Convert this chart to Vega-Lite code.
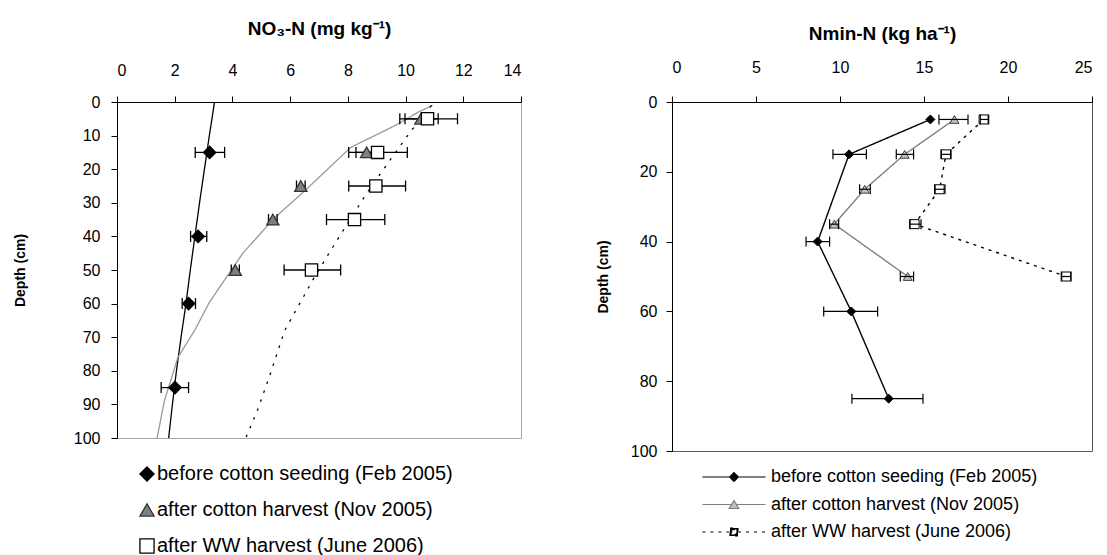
{
  "$schema": "https://vega.github.io/schema/vega-lite/v6.json",
  "padding": {"left": 12, "top": 18, "right": 5, "bottom": 0},
  "background": "white",
  "spacing": 73,
  "config": {
    "font": "Liberation Sans",
    "view": {"stroke": null},
    "axis": {"grid": false, "domainColor": "black", "tickColor": "black", "labelColor": "black", "titleColor": "black", "labelFont": "Liberation Sans", "titleFont": "Liberation Sans", "labelFontSize": 16, "tickSize": 6, "domainWidth": 1, "tickWidth": 1},
    "legend": {"labelFont": "Liberation Sans", "labelColor": "black", "labelLimit": 500}
  },
  "datasets": {
    "leftFit": [
      {"series": "before cotton seeding (Feb 2005)", "depth": 0, "value": 3.38},
      {"series": "before cotton seeding (Feb 2005)", "depth": 10, "value": 3.2},
      {"series": "before cotton seeding (Feb 2005)", "depth": 20, "value": 3.03},
      {"series": "before cotton seeding (Feb 2005)", "depth": 30, "value": 2.86},
      {"series": "before cotton seeding (Feb 2005)", "depth": 40, "value": 2.7},
      {"series": "before cotton seeding (Feb 2005)", "depth": 50, "value": 2.54},
      {"series": "before cotton seeding (Feb 2005)", "depth": 60, "value": 2.39},
      {"series": "before cotton seeding (Feb 2005)", "depth": 70, "value": 2.22},
      {"series": "before cotton seeding (Feb 2005)", "depth": 80, "value": 2.06},
      {"series": "before cotton seeding (Feb 2005)", "depth": 90, "value": 1.92},
      {"series": "before cotton seeding (Feb 2005)", "depth": 100, "value": 1.79},
      {"series": "after cotton harvest (Nov 2005)", "depth": 1, "value": 10.94},
      {"series": "after cotton harvest (Nov 2005)", "depth": 3, "value": 10.44},
      {"series": "after cotton harvest (Nov 2005)", "depth": 6.5, "value": 9.75},
      {"series": "after cotton harvest (Nov 2005)", "depth": 9, "value": 9.17},
      {"series": "after cotton harvest (Nov 2005)", "depth": 13.5, "value": 8.1},
      {"series": "after cotton harvest (Nov 2005)", "depth": 20, "value": 7.3},
      {"series": "after cotton harvest (Nov 2005)", "depth": 26, "value": 6.56},
      {"series": "after cotton harvest (Nov 2005)", "depth": 34.5, "value": 5.46},
      {"series": "after cotton harvest (Nov 2005)", "depth": 45, "value": 4.36},
      {"series": "after cotton harvest (Nov 2005)", "depth": 59.5, "value": 3.21},
      {"series": "after cotton harvest (Nov 2005)", "depth": 68, "value": 2.69},
      {"series": "after cotton harvest (Nov 2005)", "depth": 76, "value": 2.11},
      {"series": "after cotton harvest (Nov 2005)", "depth": 89, "value": 1.64},
      {"series": "after cotton harvest (Nov 2005)", "depth": 100, "value": 1.39},
      {"series": "after WW harvest (June 2006)", "depth": 1, "value": 10.9},
      {"series": "after WW harvest (June 2006)", "depth": 8.5, "value": 10.2},
      {"series": "after WW harvest (June 2006)", "depth": 18, "value": 9.4},
      {"series": "after WW harvest (June 2006)", "depth": 28, "value": 8.59},
      {"series": "after WW harvest (June 2006)", "depth": 43, "value": 7.49},
      {"series": "after WW harvest (June 2006)", "depth": 52, "value": 6.85},
      {"series": "after WW harvest (June 2006)", "depth": 68, "value": 5.81},
      {"series": "after WW harvest (June 2006)", "depth": 80, "value": 5.35},
      {"series": "after WW harvest (June 2006)", "depth": 91.5, "value": 4.88},
      {"series": "after WW harvest (June 2006)", "depth": 100, "value": 4.46}
    ],
    "leftPts": [
      {"series": "before cotton seeding (Feb 2005)", "depth": 15, "value": 3.21, "lo": 2.71, "hi": 3.73},
      {"series": "before cotton seeding (Feb 2005)", "depth": 40, "value": 2.81, "lo": 2.55, "hi": 3.11},
      {"series": "before cotton seeding (Feb 2005)", "depth": 60, "value": 2.48, "lo": 2.26, "hi": 2.72},
      {"series": "before cotton seeding (Feb 2005)", "depth": 85, "value": 2.01, "lo": 1.53, "hi": 2.48},
      {"series": "after cotton harvest (Nov 2005)", "depth": 5, "value": 10.53, "lo": 9.98, "hi": 11.13},
      {"series": "after cotton harvest (Nov 2005)", "depth": 15, "value": 8.65, "lo": 8.28, "hi": 9.02},
      {"series": "after cotton harvest (Nov 2005)", "depth": 25, "value": 6.37, "lo": 6.22, "hi": 6.52},
      {"series": "after cotton harvest (Nov 2005)", "depth": 35, "value": 5.4, "lo": 5.25, "hi": 5.55},
      {"series": "after cotton harvest (Nov 2005)", "depth": 50, "value": 4.1, "lo": 3.96, "hi": 4.24},
      {"series": "after WW harvest (June 2006)", "depth": 5, "value": 10.76, "lo": 9.8, "hi": 11.8},
      {"series": "after WW harvest (June 2006)", "depth": 15, "value": 9.03, "lo": 8.03, "hi": 10.06},
      {"series": "after WW harvest (June 2006)", "depth": 25, "value": 8.97, "lo": 8.03, "hi": 10.0},
      {"series": "after WW harvest (June 2006)", "depth": 35, "value": 8.23, "lo": 7.26, "hi": 9.28},
      {"series": "after WW harvest (June 2006)", "depth": 50, "value": 6.74, "lo": 5.79, "hi": 7.75}
    ],
    "rightPts": [
      {"series": "before cotton seeding (Feb 2005)", "depth": 5, "value": 15.38, "lo": null, "hi": null},
      {"series": "before cotton seeding (Feb 2005)", "depth": 15, "value": 10.54, "lo": 9.58, "hi": 11.57},
      {"series": "before cotton seeding (Feb 2005)", "depth": 40, "value": 8.67, "lo": 7.98, "hi": 9.38},
      {"series": "before cotton seeding (Feb 2005)", "depth": 60, "value": 10.67, "lo": 9.03, "hi": 12.24},
      {"series": "before cotton seeding (Feb 2005)", "depth": 85, "value": 12.9, "lo": 10.71, "hi": 14.94},
      {"series": "after cotton harvest (Nov 2005)", "depth": 5, "value": 16.81, "lo": 15.89, "hi": 17.62},
      {"series": "after cotton harvest (Nov 2005)", "depth": 15, "value": 13.85, "lo": 13.35, "hi": 14.38},
      {"series": "after cotton harvest (Nov 2005)", "depth": 25, "value": 11.47, "lo": 11.17, "hi": 11.8},
      {"series": "after cotton harvest (Nov 2005)", "depth": 35, "value": 9.66, "lo": 9.38, "hi": 9.92},
      {"series": "after cotton harvest (Nov 2005)", "depth": 50, "value": 14.03, "lo": 13.59, "hi": 14.38},
      {"series": "after WW harvest (June 2006)", "depth": 5, "value": 18.55, "lo": 18.35, "hi": 18.85},
      {"series": "after WW harvest (June 2006)", "depth": 15, "value": 16.31, "lo": 16.01, "hi": 16.61},
      {"series": "after WW harvest (June 2006)", "depth": 25, "value": 15.93, "lo": 15.63, "hi": 16.25},
      {"series": "after WW harvest (June 2006)", "depth": 35, "value": 14.44, "lo": 14.15, "hi": 14.82},
      {"series": "after WW harvest (June 2006)", "depth": 50, "value": 23.47, "lo": 23.17, "hi": 23.75}
    ]
  },
  "resolve": {
    "scale": {"x": "independent", "y": "independent", "color": "independent", "shape": "independent", "fill": "independent", "stroke": "independent", "strokeDash": "independent"},
    "legend": {"shape": "independent", "fill": "independent", "stroke": "independent", "color": "independent", "strokeDash": "independent"}
  },
  "hconcat": [
    {
      "width": 404,
      "height": 336,
      "view": {"stroke": "#a6a6a6"},
      "encoding": {
        "y": {"field": "depth", "type": "quantitative", "scale": {"domain": [0, 100], "reverse": true, "nice": false, "zero": false},
          "axis": {"values": [0, 10, 20, 30, 40, 50, 60, 70, 80, 90, 100], "title": "Depth (cm)", "titleFontSize": 14, "titleFontWeight": "bold", "labelPadding": 11, "titlePadding": 46}}
      },
      "layer": [
        {
          "data": {"name": "leftFit"},
          "mark": {"type": "line", "strokeWidth": 1.3},
          "encoding": {
            "x": {"field": "value", "type": "quantitative", "scale": {"domain": [0, 14], "nice": false, "zero": false}, "axis": {"orient": "top", "values": [0, 2, 4, 6, 8, 10, 12, 14], "title": "NO₃-N (mg kg⁻¹)", "titleFontSize": 19, "titleFontWeight": "bold", "labelPadding": 18, "titlePadding": 24}},
            "color": {"field": "series", "type": "nominal", "scale": {"domain": ["after WW harvest (June 2006)", "before cotton seeding (Feb 2005)", "after cotton harvest (Nov 2005)"], "range": ["black", "black", "#999999"]}, "legend": null},
            "strokeDash": {"field": "series", "type": "nominal", "scale": {"domain": ["after WW harvest (June 2006)", "before cotton seeding (Feb 2005)", "after cotton harvest (Nov 2005)"], "range": [[2.5, 7], [1, 0], [1, 0]]}, "legend": null},
            "order": {"field": "depth", "type": "quantitative"}
          }
        },
        {
          "data": {"name": "leftPts"},
          "mark": {"type": "rule", "color": "black", "strokeWidth": 1.3},
          "encoding": {
            "x": {"field": "lo", "type": "quantitative", "scale": {"domain": [0, 14], "nice": false, "zero": false}, "axis": {"orient": "top", "values": [0, 2, 4, 6, 8, 10, 12, 14], "title": "NO₃-N (mg kg⁻¹)", "titleFontSize": 19, "titleFontWeight": "bold", "labelPadding": 18, "titlePadding": 24}},
            "x2": {"field": "hi"}
          }
        },
        {
          "data": {"name": "leftPts"},
          "mark": {"type": "tick", "orient": "vertical", "size": 11, "thickness": 1.3, "color": "black", "opacity": 1},
          "encoding": {
            "x": {"field": "lo", "type": "quantitative", "scale": {"domain": [0, 14], "nice": false, "zero": false}, "axis": {"orient": "top", "values": [0, 2, 4, 6, 8, 10, 12, 14], "title": "NO₃-N (mg kg⁻¹)", "titleFontSize": 19, "titleFontWeight": "bold", "labelPadding": 18, "titlePadding": 24}}
          }
        },
        {
          "data": {"name": "leftPts"},
          "mark": {"type": "tick", "orient": "vertical", "size": 11, "thickness": 1.3, "color": "black", "opacity": 1},
          "encoding": {
            "x": {"field": "hi", "type": "quantitative", "scale": {"domain": [0, 14], "nice": false, "zero": false}, "axis": {"orient": "top", "values": [0, 2, 4, 6, 8, 10, 12, 14], "title": "NO₃-N (mg kg⁻¹)", "titleFontSize": 19, "titleFontWeight": "bold", "labelPadding": 18, "titlePadding": 24}}
          }
        },
        {
          "data": {"name": "leftPts"},
          "mark": {"type": "point", "filled": true, "size": 150, "strokeWidth": 1.3, "opacity": 1},
          "encoding": {
            "x": {"field": "value", "type": "quantitative", "scale": {"domain": [0, 14], "nice": false, "zero": false}, "axis": {"orient": "top", "values": [0, 2, 4, 6, 8, 10, 12, 14], "title": "NO₃-N (mg kg⁻¹)", "titleFontSize": 19, "titleFontWeight": "bold", "labelPadding": 18, "titlePadding": 24}},
            "shape": {"field": "series", "type": "nominal", "scale": {"domain": ["before cotton seeding (Feb 2005)", "after cotton harvest (Nov 2005)", "after WW harvest (June 2006)"], "range": ["diamond", "triangle-up", "square"]},
              "legend": {"title": null, "orient": "none", "legendX": 20, "legendY": 362, "direction": "vertical", "symbolSize": 200, "symbolStrokeWidth": 1.3, "labelFontSize": 20, "labelLimit": 500, "rowPadding": 16, "labelOffset": 0, "padding": 0}},
            "fill": {"field": "series", "type": "nominal", "scale": {"domain": ["before cotton seeding (Feb 2005)", "after cotton harvest (Nov 2005)", "after WW harvest (June 2006)"], "range": ["black", "#808080", "white"]},
              "legend": {"title": null, "orient": "none", "legendX": 20, "legendY": 362, "direction": "vertical", "symbolSize": 200, "symbolStrokeWidth": 1.3, "labelFontSize": 20, "labelLimit": 500, "rowPadding": 16, "labelOffset": 0, "padding": 0}},
            "stroke": {"field": "series", "type": "nominal", "scale": {"domain": ["before cotton seeding (Feb 2005)", "after cotton harvest (Nov 2005)", "after WW harvest (June 2006)"], "range": ["black", "#333333", "black"]},
              "legend": {"title": null, "orient": "none", "legendX": 20, "legendY": 362, "direction": "vertical", "symbolSize": 200, "symbolStrokeWidth": 1.3, "labelFontSize": 20, "labelLimit": 500, "rowPadding": 16, "labelOffset": 0, "padding": 0}}
          }
        }
      ]
    },
    {
      "width": 420,
      "height": 349,
      "view": {"stroke": "#595959"},
      "encoding": {
        "y": {"field": "depth", "type": "quantitative", "scale": {"domain": [0, 100], "reverse": true, "nice": false, "zero": false},
          "axis": {"values": [0, 20, 40, 60, 80, 100], "title": "Depth (cm)", "titleFontSize": 14, "titleFontWeight": "bold", "labelPadding": 9, "titlePadding": 20}}
      },
      "layer": [
        {
          "data": {"name": "rightPts"},
          "mark": {"type": "line", "strokeWidth": 1.4},
          "encoding": {
            "x": {"field": "value", "type": "quantitative", "scale": {"domain": [0, 25], "nice": false, "zero": false}, "axis": {"orient": "top", "values": [0, 5, 10, 15, 20, 25], "title": "Nmin-N (kg ha⁻¹)", "titleFontSize": 19, "titleFontWeight": "bold", "labelPadding": 21, "titlePadding": 16}},
            "color": {"field": "series", "type": "nominal", "scale": {"domain": ["after WW harvest (June 2006)", "before cotton seeding (Feb 2005)", "after cotton harvest (Nov 2005)"], "range": ["black", "black", "#808080"]}, "legend": null},
            "strokeDash": {"field": "series", "type": "nominal", "scale": {"domain": ["before cotton seeding (Feb 2005)", "after cotton harvest (Nov 2005)", "after WW harvest (June 2006)"], "range": [[1, 0], [1, 0], [3, 5]]},
              "legend": {"title": null, "orient": "none", "legendX": 53, "legendY": 366, "direction": "vertical", "symbolSize": 64, "symbolStrokeWidth": 1.2, "labelFontSize": 18, "labelLimit": 500, "rowPadding": 9.5, "labelOffset": 28, "padding": 0,
                "encode": {"symbols": {"update": {
                  "shape": {"signal": "datum.value === 'before cotton seeding (Feb 2005)' ? 'M-7.9,0H-1.1M-1.1,0L0,-1.1L1.1,0L0,1.1ZM1.1,0H7.9' : datum.value === 'after cotton harvest (Nov 2005)' ? 'M-7.9,0H-0.6M0,-1L1.2,1L-1.2,1ZM0.6,0H7.9' : 'M-7.9,0H-1M-1,-1H1V1H-1ZM-0.6,-0.6V0.6H0.6V-0.6ZM1,0H7.9'"},
                  "fill": {"signal": "datum.value === 'after cotton harvest (Nov 2005)' ? '#c0c0c0' : 'black'"},
                  "stroke": {"signal": "datum.value === 'after cotton harvest (Nov 2005)' ? '#808080' : 'black'"},
                  "opacity": {"value": 1}
                }}}}},
            "order": {"field": "depth", "type": "quantitative"}
          }
        },
        {
          "data": {"name": "rightPts"},
          "mark": {"type": "point", "filled": true, "size": 81, "strokeWidth": 1, "opacity": 1},
          "encoding": {
            "x": {"field": "value", "type": "quantitative", "scale": {"domain": [0, 25], "nice": false, "zero": false}, "axis": {"orient": "top", "values": [0, 5, 10, 15, 20, 25], "title": "Nmin-N (kg ha⁻¹)", "titleFontSize": 19, "titleFontWeight": "bold", "labelPadding": 21, "titlePadding": 16}},
            "shape": {"field": "series", "type": "nominal", "scale": {"domain": ["after WW harvest (June 2006)", "before cotton seeding (Feb 2005)", "after cotton harvest (Nov 2005)"], "range": ["square", "diamond", "triangle-up"]}, "legend": null},
            "fill": {"field": "series", "type": "nominal", "scale": {"domain": ["after WW harvest (June 2006)", "before cotton seeding (Feb 2005)", "after cotton harvest (Nov 2005)"], "range": ["white", "black", "#c0c0c0"]}, "legend": null},
            "stroke": {"field": "series", "type": "nominal", "scale": {"domain": ["after WW harvest (June 2006)", "before cotton seeding (Feb 2005)", "after cotton harvest (Nov 2005)"], "range": ["black", "black", "#404040"]}, "legend": null}
          }
        },
        {
          "data": {"name": "rightPts"},
          "mark": {"type": "rule", "color": "black", "strokeWidth": 1.2},
          "encoding": {
            "x": {"field": "lo", "type": "quantitative", "scale": {"domain": [0, 25], "nice": false, "zero": false}, "axis": {"orient": "top", "values": [0, 5, 10, 15, 20, 25], "title": "Nmin-N (kg ha⁻¹)", "titleFontSize": 19, "titleFontWeight": "bold", "labelPadding": 21, "titlePadding": 16}},
            "x2": {"field": "hi"}
          }
        },
        {
          "data": {"name": "rightPts"},
          "mark": {"type": "tick", "orient": "vertical", "size": 10, "thickness": 1.2, "color": "black", "opacity": 1},
          "encoding": {
            "x": {"field": "lo", "type": "quantitative", "scale": {"domain": [0, 25], "nice": false, "zero": false}, "axis": {"orient": "top", "values": [0, 5, 10, 15, 20, 25], "title": "Nmin-N (kg ha⁻¹)", "titleFontSize": 19, "titleFontWeight": "bold", "labelPadding": 21, "titlePadding": 16}}
          }
        },
        {
          "data": {"name": "rightPts"},
          "mark": {"type": "tick", "orient": "vertical", "size": 10, "thickness": 1.2, "color": "black", "opacity": 1},
          "encoding": {
            "x": {"field": "hi", "type": "quantitative", "scale": {"domain": [0, 25], "nice": false, "zero": false}, "axis": {"orient": "top", "values": [0, 5, 10, 15, 20, 25], "title": "Nmin-N (kg ha⁻¹)", "titleFontSize": 19, "titleFontWeight": "bold", "labelPadding": 21, "titlePadding": 16}}
          }
        }
      ]
    }
  ]
}
